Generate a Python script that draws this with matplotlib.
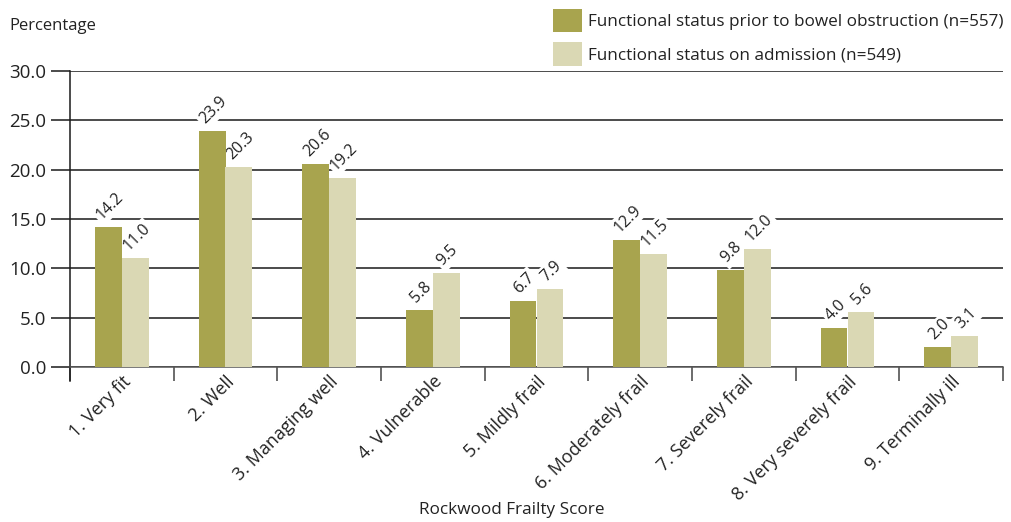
import matplotlib
matplotlib.use("Agg")
from matplotlib import pyplot as plt
import numpy as np

# data
categories = ["1. Very fit", "2. Well", "3. Managing well", "4. Vulnerable",
              "5. Mildly frail", "6. Moderately frail", "7. Severely frail",
              "8. Very severely frail", "9. Terminally ill"]
prior = [14.2, 23.9, 20.6, 5.8, 6.7, 12.9, 9.8, 4.0, 2.0]
admission = [11.0, 20.3, 19.2, 9.5, 7.9, 11.5, 12.0, 5.6, 3.1]
series_names = ["Functional status prior to bowel obstruction (n=557)",
                "Functional status on admission (n=549)"]
y_ticks = [0, 5, 10, 15, 20, 25, 30]

OLIVE = "#a8a44e"
BEIGE = "#dad8b4"
TXT = "#222222"
LINE = "#1a1a1a"

plt.rcParams['font.family'] = ['Open Sans', 'DejaVu Sans']

fig = plt.figure(figsize=(10.11, 5.22), dpi=100)
ax = fig.add_axes([70 / 1011, 1 - 367 / 522, 933 / 1011, 296 / 522])

x = np.arange(len(categories))
w = 0.26
b1 = ax.bar(x - w / 2, prior, w, color=OLIVE, label=series_names[0], zorder=3)
b2 = ax.bar(x + w / 2, admission, w, color=BEIGE, label=series_names[1], zorder=3)

# value labels: white box knocks out the gridlines but sits under the bars
for bars, vals in ((b1, prior), (b2, admission)):
    for rect, v in zip(bars, vals):
        ax.annotate(f"{v:.1f}", (rect.get_x() + rect.get_width() / 2, rect.get_height()),
                    xytext=(1, 3), textcoords="offset points", rotation=45,
                    ha="center", va="bottom", fontsize=11.5, color=TXT, zorder=2,
                    bbox=dict(boxstyle="square,pad=0.15", fc="white", ec="none"))

ax.set_xlim(-0.5, len(categories) - 0.5)
ax.set_ylim(0, 30)
ax.set_yticks(y_ticks)
ax.set_yticklabels([f"{t:.1f}" for t in y_ticks], fontsize=13.5, color=TXT)
ax.yaxis.grid(True, color=LINE, linewidth=1.1, zorder=1)
ax.tick_params(axis="y", length=14, width=1.1, color=LINE, pad=3)

ax.set_xticks(x)
ax.set_xticklabels(categories, rotation=45, ha="right", rotation_mode="anchor",
                   fontsize=13, color=TXT)
ax.tick_params(axis="x", which="major", length=0, pad=4)
ax.set_xticks(np.arange(len(categories) + 1) - 0.5, minor=True)
ax.tick_params(axis="x", which="minor", length=10, width=1.1, color="#444444")

for s in ("top", "right"):
    ax.spines[s].set_visible(False)
ax.spines["left"].set_color(LINE)
ax.spines["left"].set_linewidth(1.1)
ax.spines["left"].set_bounds(-1.4, 30)
ax.spines["bottom"].set_color("#555555")
ax.spines["bottom"].set_linewidth(1.1)

fig.text(9 / 1011, 1 - 26 / 522, "Percentage", fontsize=12, color=TXT, va="center")
fig.text(512 / 1011, 1 - 510 / 522, "Rockwood Frailty Score", fontsize=12.3,
         color=TXT, ha="center", va="center")

fig.legend(handles=[b1, b2], loc="upper left", bbox_to_anchor=(544 / 1011, 1.0),
           frameon=False, fontsize=12.3, handlelength=1.75, handleheight=1.75,
           handletextpad=0.35, labelspacing=0.6, labelcolor=TXT, borderaxespad=0.1)

fig.savefig("out.png", dpi=100)
